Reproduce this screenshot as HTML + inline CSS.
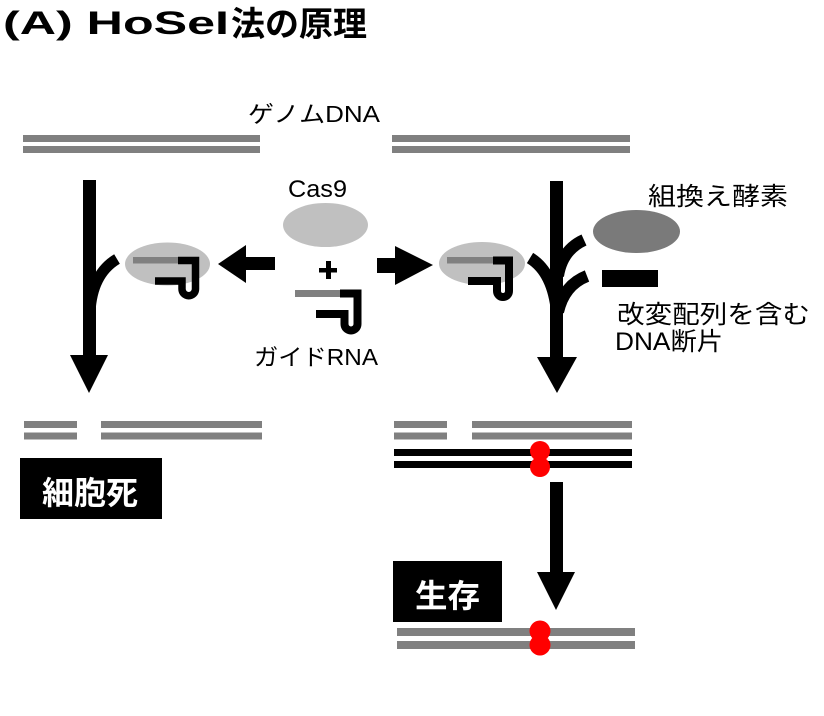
<!DOCTYPE html>
<html><head><meta charset="utf-8"><style>
html,body{margin:0;padding:0;background:#fff;}
svg{display:block;}
text{font-family:"Liberation Sans","Noto Sans CJK JP",sans-serif;}
</style></head><body>
<svg width="824" height="716" viewBox="0 0 824 716" xmlns="http://www.w3.org/2000/svg">
<rect width="824" height="716" fill="#fff"/>
<!-- Title -->
<text x="3" y="34" font-size="32" font-weight="bold" textLength="226" lengthAdjust="spacingAndGlyphs" fill="#000">(A) HoSeI</text>
<text x="231" y="36" font-size="34" font-weight="bold" textLength="136" lengthAdjust="spacingAndGlyphs" fill="#000">法の原理</text>

<!-- genome DNA label -->
<text x="248" y="122" font-size="23" textLength="132" lengthAdjust="spacingAndGlyphs" fill="#000">ゲノムDNA</text>

<!-- top DNA bars -->
<rect x="23" y="135" width="237" height="7" fill="#808080"/>
<rect x="23" y="146" width="237" height="7" fill="#808080"/>
<rect x="392" y="135" width="238" height="7" fill="#808080"/>
<rect x="392" y="146" width="238" height="7" fill="#808080"/>

<!-- left down arrow -->
<rect x="83" y="180" width="13" height="177" fill="#000"/>
<polygon points="70,355 108,355 89,393" fill="#000"/>
<path d="M90 312 Q92 274 117 259" stroke="#000" stroke-width="11" fill="none"/>

<!-- left complex -->
<ellipse cx="167.5" cy="264" rx="42.5" ry="21.5" fill="#c0c0c0"/>
<rect x="133" y="257" width="46" height="6.5" fill="#808080"/>
<path d="M178 260.5 H195.5 V289 A6.75 6.75 0 0 1 182 289 V281 H155" stroke="#000" stroke-width="7.5" fill="none"/>

<!-- left arrow -->
<rect x="244" y="257" width="31" height="13" fill="#000"/>
<polygon points="246,245 246,283 218,264" fill="#000"/>

<!-- Cas9 -->
<text x="288" y="197" font-size="24" textLength="59" lengthAdjust="spacingAndGlyphs" fill="#000">Cas9</text>
<ellipse cx="325.5" cy="225" rx="42.5" ry="22" fill="#c0c0c0"/>
<!-- plus -->
<rect x="319" y="268" width="18" height="4.5" fill="#000"/>
<rect x="326" y="261" width="5" height="18" fill="#000"/>
<!-- guide RNA -->
<rect x="295" y="290" width="46" height="7" fill="#808080"/>
<path d="M340 293.5 H357.5 V324 A6.5 6.5 0 0 1 344.5 324 V314 H316" stroke="#000" stroke-width="8" fill="none"/>
<text x="254" y="365" font-size="23" textLength="124" lengthAdjust="spacingAndGlyphs" fill="#000">ガイドRNA</text>

<!-- right arrow -->
<rect x="377" y="258" width="19" height="15" fill="#000"/>
<polygon points="395,246 395,285 433,265" fill="#000"/>

<!-- right complex -->
<ellipse cx="482" cy="263.5" rx="43" ry="21.5" fill="#c0c0c0"/>
<rect x="447" y="257" width="47" height="6.5" fill="#808080"/>
<path d="M493 260.5 H509 V291 A6 6 0 0 1 497 291 V281 H468" stroke="#000" stroke-width="8" fill="none"/>

<!-- right down arrow with branches -->
<rect x="550" y="181" width="13" height="177" fill="#000"/>
<polygon points="537,357 577,357 557,393" fill="#000"/>
<path d="M530 258 Q553 272 557 312" stroke="#000" stroke-width="12" fill="none"/>
<path d="M584 240 Q562 250 558 276" stroke="#000" stroke-width="12" fill="none"/>
<path d="M587 276 Q564 285 558 312" stroke="#000" stroke-width="12" fill="none"/>

<!-- recombinase -->
<text x="648" y="205" font-size="25" textLength="140" lengthAdjust="spacingAndGlyphs" fill="#000">組換え酵素</text>
<ellipse cx="636.5" cy="231.5" rx="43.5" ry="21.5" fill="#7a7a7a"/>
<rect x="602" y="270" width="56" height="17" fill="#000"/>
<text x="617" y="323" font-size="25" textLength="193" lengthAdjust="spacingAndGlyphs" fill="#000">改変配列を含む</text>
<text x="615" y="350" font-size="25" textLength="108" lengthAdjust="spacingAndGlyphs" fill="#000">DNA断片</text>

<!-- left cut DNA -->
<rect x="24" y="421" width="53" height="7" fill="#808080"/>
<rect x="24" y="432.5" width="53" height="7" fill="#808080"/>
<rect x="101" y="421" width="161" height="7" fill="#808080"/>
<rect x="101" y="432.5" width="161" height="7" fill="#808080"/>
<rect x="20" y="458" width="142" height="61" fill="#000"/>
<text x="42" y="504" font-size="32" font-weight="bold" textLength="96" lengthAdjust="spacingAndGlyphs" fill="#fff">細胞死</text>

<!-- right cut DNA + donor -->
<rect x="394" y="421" width="53" height="7" fill="#808080"/>
<rect x="394" y="432.5" width="53" height="7" fill="#808080"/>
<rect x="472" y="421" width="160" height="7" fill="#808080"/>
<rect x="472" y="432.5" width="160" height="7" fill="#808080"/>
<rect x="394" y="449" width="238" height="7" fill="#000"/>
<rect x="394" y="461" width="238" height="7" fill="#000"/>
<circle cx="540" cy="451" r="10" fill="#ff0000"/>
<circle cx="540" cy="467" r="10" fill="#ff0000"/>

<!-- bottom arrow -->
<rect x="550" y="482" width="13" height="92" fill="#000"/>
<polygon points="537,572 575,572 556,610" fill="#000"/>

<!-- survival -->
<rect x="393" y="561" width="109" height="61" fill="#000"/>
<text x="415" y="607" font-size="32" font-weight="bold" textLength="65" lengthAdjust="spacingAndGlyphs" fill="#fff">生存</text>

<rect x="397" y="628" width="238" height="8" fill="#808080"/>
<rect x="397" y="641" width="238" height="8" fill="#808080"/>
<circle cx="540" cy="631" r="10.5" fill="#ff0000"/>
<circle cx="540" cy="645" r="10.5" fill="#ff0000"/>
</svg>
</body></html>
